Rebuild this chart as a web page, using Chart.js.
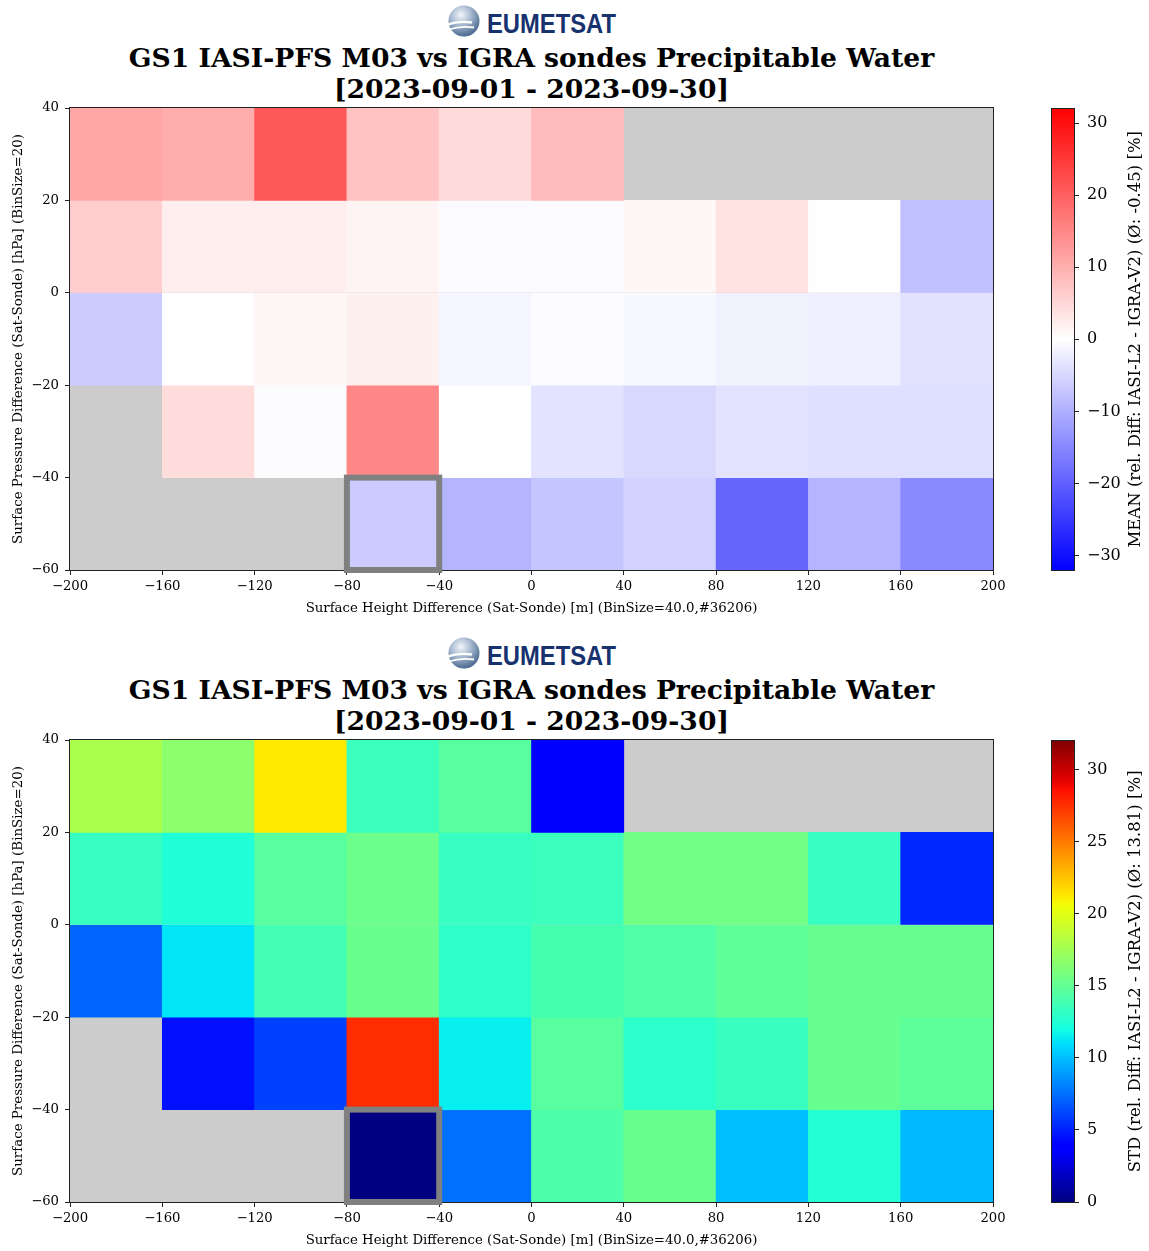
<!DOCTYPE html>
<html>
<head>
<meta charset="utf-8">
<script src="https://cdn.jsdelivr.net/npm/chart.js@4.4.0/dist/chart.umd.min.js"></script>
<style>
  body { margin: 0; background: #fff; width: 1149px; height: 1251px; position: relative; overflow: hidden; font-family: "DejaVu Serif", serif; }
  .panel { position: absolute; left: 0; width: 1149px; height: 632px; }
  .globe { position: absolute; left: 446px; top: 4px; width: 34px; height: 34px; }
  .brand { position: absolute; left: 487px; top: 11px; font-family: "Liberation Sans", Arial, sans-serif; font-weight: bold; font-size: 27px; line-height: 27px; color: #17326e; transform: scaleX(0.88); transform-origin: left top; white-space: nowrap; }
  .title { position: absolute; left: 0; top: 42px; width: 1063px; text-align: center; font-weight: bold; font-size: 26.6px; line-height: 31px; color: #000; white-space: nowrap; }
  .heat { position: absolute; left: 0; top: 91px; }
  .cbar { position: absolute; left: 1040px; top: 91px; }
</style>
</head>
<body>
<div class="panel" id="panel-mean" style="top:0px"></div>
<div class="panel" id="panel-std" style="top:632px"></div>
<script>
// bins: 40 m in height difference, 20 hPa in pressure difference
const xBinCenters = [-180, -140, -100, -60, -20, 20, 60, 100, 140, 180];
const yBinEdges = [[20, 40], [0, 20], [-20, 0], [-40, -20], [-60, -40]];
const xTicks = [-200, -160, -120, -80, -40, 0, 40, 80, 120, 160, 200];
const yTicks = [-60, -40, -20, 0, 20, 40];
const meanTicks = [-30, -20, -10, 0, 10, 20, 30];
const stdTicks = [0, 5, 10, 15, 20, 25, 30];

// MEAN rel. diff [%], one array per pressure row (top row first)
const meanRow1 = [11.2, 10.3, 21.0, 7.5, 4.6, 8.5, null, null, null, null];
const meanRow2 = [6.3, 2.1, 2.1, 1.4, -0.6, -0.6, 1.0, 3.6, 0.1, -7.9];
const meanRow3 = [-6.4, 0.0, 1.1, 1.9, -1.2, -0.4, -0.9, -1.6, -2.0, -3.6];
const meanRow4 = [null, 4.3, -0.4, 15.1, 0.0, -3.5, -4.9, -3.5, -4.0, -4.0];
const meanRow5 = [null, null, null, -6.5, -9.4, -7.3, -5.6, -19.2, -9.4, -14.7];

// STD rel. diff [%]
const stdRow1 = [17.8, 16.6, 21.2, 13.5, 14.6, 3.8, null, null, null, null];
const stdRow2 = [13.3, 12.4, 14.6, 15.4, 13.3, 13.5, 15.6, 15.6, 13.3, 5.2];
const stdRow3 = [7.2, 11.2, 13.8, 15.3, 13.0, 13.9, 14.3, 14.9, 15.2, 15.2];
const stdRow4 = [null, 4.5, 6.0, 27.6, 11.5, 14.6, 12.9, 13.4, 15.2, 14.8];
const stdRow5 = [null, null, null, 0.0, 7.5, 14.2, 15.3, 10.0, 12.6, 9.8];

const highlightX = [-80, -40];
const highlightY = [-60, -40];

const titleLine1 = "GS1 IASI-PFS M03 vs IGRA sondes Precipitable Water";
const titleLine2 = "[2023-09-01 - 2023-09-30]";
const xLabel = "Surface Height Difference (Sat-Sonde) [m] (BinSize=40.0,#36206)";
const yLabel = "Surface Pressure Difference (Sat-Sonde) [hPa] (BinSize=20)";
const meanLabel = "MEAN (rel. Diff: IASI-L2 - IGRA-V2) (\u00d8: -0.45) [%]";
const stdLabel = "STD (rel. Diff: IASI-L2 - IGRA-V2) (\u00d8: 13.81) [%]";

// matplotlib colormaps as segment tables
const JET = {
  r: [[0, 0], [0.35, 0], [0.66, 1], [0.89, 1], [1, 0.5]],
  g: [[0, 0], [0.125, 0], [0.375, 1], [0.64, 1], [0.91, 0], [1, 0]],
  b: [[0, 0.5], [0.11, 1], [0.34, 1], [0.65, 0], [1, 0]],
};
const BWR = {
  r: [[0, 0], [0.5, 1], [1, 1]],
  g: [[0, 0], [0.5, 1], [1, 0]],
  b: [[0, 1], [0.5, 1], [1, 0]],
};

function seg(table, t) {
  for (let i = 1; i < table.length; i++) {
    if (t <= table[i][0]) {
      const [t0, v0] = table[i - 1];
      const [t1, v1] = table[i];
      return v0 + (v1 - v0) * (t - t0) / (t1 - t0);
    }
  }
  return table[table.length - 1][1];
}

function cmapColor(map, t) {
  t = Math.max(0, Math.min(1, t));
  const r = Math.round(seg(map.r, t) * 255);
  const g = Math.round(seg(map.g, t) * 255);
  const b = Math.round(seg(map.b, t) * 255);
  return "rgb(" + r + "," + g + "," + b + ")";
}

function fmt(v) {
  return v < 0 ? "\u2212" + Math.abs(v) : String(v);
}

Chart.defaults.font.family = "'DejaVu Serif', serif";
Chart.defaults.color = "#000";

function logoHtml(id) {
  return '<svg class="globe" viewBox="0 0 34 34">' +
    '<defs><radialGradient id="' + id + '" cx="0.4" cy="0.3" r="0.8">' +
    '<stop offset="0" stop-color="#f2f5f9"/><stop offset="0.4" stop-color="#a9bcd2"/>' +
    '<stop offset="1" stop-color="#34557f"/></radialGradient></defs>' +
    '<circle cx="18" cy="17" r="15.5" fill="url(#' + id + ')"/>' +
    '<path d="M1 21 Q12 16.5 26 18.5" stroke="#fff" stroke-width="2.4" fill="none"/>' +
    '<path d="M3 25.5 Q14 21.5 28 23.5" stroke="#fff" stroke-width="1.8" fill="none"/>' +
    '</svg><div class="brand">EUMETSAT</div>';
}

function buildPanel(panelId, rows, cmap, vmin, vmax, cbTicks, cbLabel) {
  const panel = document.getElementById(panelId);
  panel.innerHTML = logoHtml(panelId + "-grad") +
    '<div class="title">' + titleLine1 + "<br>" + titleLine2 + "</div>" +
    '<canvas class="heat" width="1010" height="530"></canvas>' +
    '<canvas class="cbar" width="109" height="530"></canvas>';
  const heatCanvas = panel.querySelector(".heat");
  const cbCanvas = panel.querySelector(".cbar");
  const norm = (v) => (v - vmin) / (vmax - vmin);

  const heatPlugin = {
    id: "heatFrame",
    beforeDatasetsDraw(chart) {
      const { ctx, chartArea: a } = chart;
      ctx.save();
      ctx.fillStyle = "#cccccc";
      ctx.fillRect(a.left, a.top, a.right - a.left, a.bottom - a.top);
      ctx.restore();
    },
    afterDatasetsDraw(chart) {
      const { ctx, chartArea: a, scales } = chart;
      ctx.save();
      ctx.strokeStyle = "#222";
      ctx.lineWidth = 1;
      ctx.strokeRect(Math.round(a.left) - 0.5, Math.round(a.top) - 0.5,
        Math.round(a.right - a.left) + 1, Math.round(a.bottom - a.top) + 1);
      const x0 = scales.x.getPixelForValue(highlightX[0]);
      const x1 = scales.x.getPixelForValue(highlightX[1]);
      const y0 = scales.y.getPixelForValue(highlightY[1]);
      const y1 = scales.y.getPixelForValue(highlightY[0]);
      ctx.strokeStyle = "#808080";
      ctx.lineWidth = 6;
      ctx.strokeRect(x0, y0, x1 - x0, y1 - y0);
      ctx.restore();
    },
  };

  new Chart(heatCanvas, {
    type: "bar",
    data: {
      datasets: rows.map((row, r) => ({
        data: xBinCenters
          .map((x, i) => ({ x: x, y: yBinEdges[r], v: row[i] }))
          .filter((d) => d.v !== null),
        backgroundColor: (c) => cmapColor(cmap, c.raw ? norm(c.raw.v) : 0.5),
        borderWidth: 0,
        grouped: false,
        barPercentage: 1,
        categoryPercentage: 1,
      })),
    },
    options: {
      responsive: false,
      animation: false,
      layout: { padding: { top: 17, right: 17, left: 0, bottom: 0 } },
      plugins: { legend: { display: false }, tooltip: { enabled: false } },
      scales: {
        x: {
          type: "linear",
          min: -200,
          max: 200,
          offset: false,
          afterBuildTicks: (s) => { s.ticks = xTicks.map((v) => ({ value: v })); },
          afterFit: (s) => { s.height = 51; },
          ticks: { autoSkip: false, maxRotation: 0, padding: 4, font: { size: 13.2 }, callback: fmt },
          grid: { drawOnChartArea: false, tickLength: 5, color: "#222", offset: false },
          border: { display: false },
          title: { display: true, text: xLabel, font: { size: 13.3 }, padding: { top: 4, bottom: 4 } },
        },
        y: {
          type: "linear",
          min: -60,
          max: 40,
          afterBuildTicks: (s) => { s.ticks = yTicks.map((v) => ({ value: v })); },
          afterFit: (s) => { s.width = 70; },
          ticks: { autoSkip: false, padding: 6, font: { size: 13.2 }, callback: fmt },
          grid: { drawOnChartArea: false, tickLength: 5, color: "#222" },
          border: { display: false },
          title: { display: true, text: yLabel, font: { size: 13.4 }, padding: { top: 10, bottom: 0 } },
        },
      },
    },
    plugins: [heatPlugin],
  });

  const cbPlugin = {
    id: "colorbar",
    beforeDatasetsDraw(chart) {
      const { ctx, chartArea: a } = chart;
      const grad = ctx.createLinearGradient(0, a.bottom, 0, a.top);
      for (let i = 0; i <= 64; i++) grad.addColorStop(i / 64, cmapColor(cmap, i / 64));
      ctx.save();
      ctx.fillStyle = grad;
      ctx.fillRect(a.left, a.top, a.right - a.left, a.bottom - a.top);
      ctx.strokeStyle = "#222";
      ctx.lineWidth = 1;
      ctx.strokeRect(Math.round(a.left) - 0.5, Math.round(a.top) - 0.5,
        Math.round(a.right - a.left) + 1, Math.round(a.bottom - a.top) + 1);
      ctx.translate(a.right + 62, (a.top + a.bottom) / 2);
      ctx.rotate(-Math.PI / 2);
      ctx.font = "16.5px 'DejaVu Serif', serif";
      ctx.fillStyle = "#000";
      ctx.textAlign = "center";
      ctx.textBaseline = "middle";
      ctx.fillText(cbLabel, 0, 0);
      ctx.restore();
    },
  };

  new Chart(cbCanvas, {
    type: "bar",
    data: { labels: [], datasets: [] },
    options: {
      responsive: false,
      animation: false,
      layout: { padding: { top: 17, left: 12, bottom: 51, right: 0 } },
      plugins: { legend: { display: false }, tooltip: { enabled: false } },
      scales: {
        x: { display: false },
        y: {
          type: "linear",
          position: "right",
          min: vmin,
          max: vmax,
          afterBuildTicks: (s) => { s.ticks = cbTicks.map((v) => ({ value: v })); },
          afterFit: (s) => { s.width = 75; },
          ticks: { autoSkip: false, padding: 8, font: { size: 16 }, callback: fmt },
          grid: { drawOnChartArea: false, tickLength: 5, color: "#222" },
          border: { display: false },
        },
      },
    },
    plugins: [cbPlugin],
  });
}

buildPanel("panel-mean", [meanRow1, meanRow2, meanRow3, meanRow4, meanRow5], BWR, -32, 32, meanTicks, meanLabel);
buildPanel("panel-std", [stdRow1, stdRow2, stdRow3, stdRow4, stdRow5], JET, 0, 32, stdTicks, stdLabel);
</script>
</body>
</html>
